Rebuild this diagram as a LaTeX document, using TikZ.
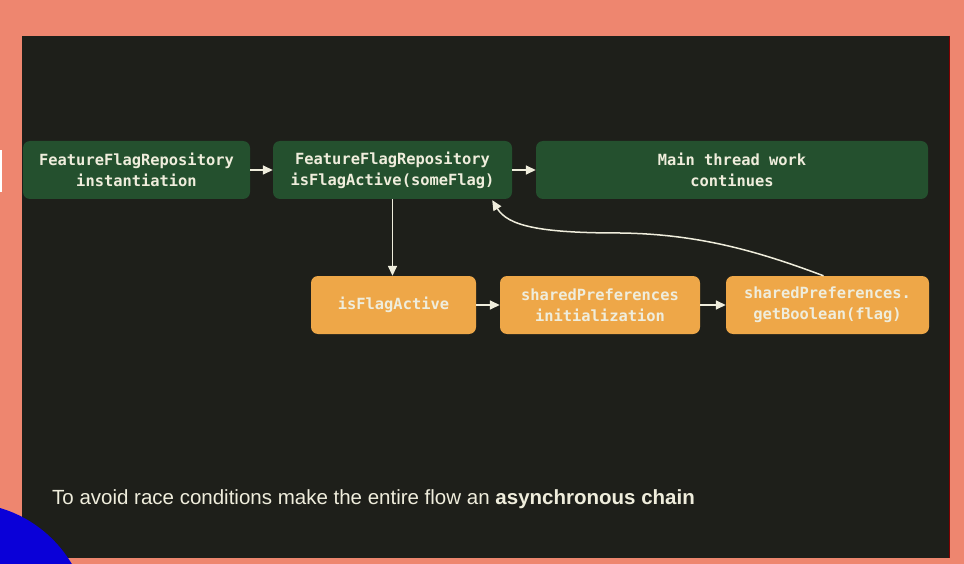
\documentclass[tikz,border=0pt]{standalone}
\usepackage{fontspec}
\setmainfont{Liberation Sans}
\newfontfamily\codefont{DejaVu Sans Mono}
\usetikzlibrary{arrows.meta}
\definecolor{slide}{HTML}{EE866F}
\definecolor{panel}{HTML}{1E1F1A}
\definecolor{greenbox}{HTML}{24502E}
\definecolor{orangebox}{HTML}{EEA748}
\definecolor{cream}{HTML}{EFEDDC}
\definecolor{dot}{HTML}{0A00D8}
\begin{document}
\begin{tikzpicture}[x=1pt,y=-1pt,
  box/.style={rounded corners=7pt, align=center, text=cream,
    font=\codefont\bfseries\fontsize{15.4}{21}\selectfont, inner sep=0pt,
    minimum height=58pt},
  mainbox/.style={box, fill=greenbox},
  asyncbox/.style={box, fill=orangebox},
  flow/.style={draw=cream, line width=1.5pt,
    -{Triangle[length=10pt,width=9pt]}}]
  % slide background and dark content panel
  \fill[slide] (0,0) rectangle (964,564);
  \useasboundingbox (0,0) rectangle (964,564);
  \fill[panel] (22,36) rectangle (949,558);
  \draw[red!50!black, line width=0.8pt] (949,36) -- (949,558);
  \fill[white] (0,150) rectangle (2,192);

  % synchronous steps on the main thread
  \node[mainbox, minimum width=227pt] (inst) at (136.5,170)
    {FeatureFlagRepository\\instantiation};
  \node[mainbox, minimum width=239pt] (check) at (392.5,170)
    {FeatureFlagRepository\\isFlagActive(someFlag)};
  \node[mainbox, minimum width=392pt] (cont) at (732,170)
    {Main thread work\\continues};

  % asynchronous steps
  \node[asyncbox, minimum width=165pt] (active) at (393.5,305) {isFlagActive};
  \node[asyncbox, minimum width=200pt] (init) at (600,305)
    {sharedPreferences\\initialization};
  \node[asyncbox, minimum width=203pt] (getb) at (827.5,305)
    {sharedPreferences.\\getBoolean(flag)};

  \coordinate (ret) at ([xshift=-20pt,yshift=-1pt]check.south east);
  \coordinate (bend) at (620,233);

  \draw[flow] (inst) -- (check);
  \draw[flow] (check) -- (cont);
  \draw[flow] (check.south) -- (check.south |- active.north);
  \draw[flow] (active) -- (init);
  \draw[flow] (init) -- (getb);
  \draw[flow] ([xshift=-4pt]getb.north)
    .. controls (760,252) and (700,234) .. (bend)
    .. controls (540,233) and (508,226) .. (ret);

  % closing note
  \node[anchor=base west, text=cream, inner sep=0pt,
    font=\fontsize{20.5}{24}\selectfont] (note) at (52,504)
    {To avoid race conditions make the entire flow an \textbf{asynchronous chain}};

  % decorative disc in the corner
  \fill[dot] (-35,627) circle (124);
\end{tikzpicture}
\end{document}
